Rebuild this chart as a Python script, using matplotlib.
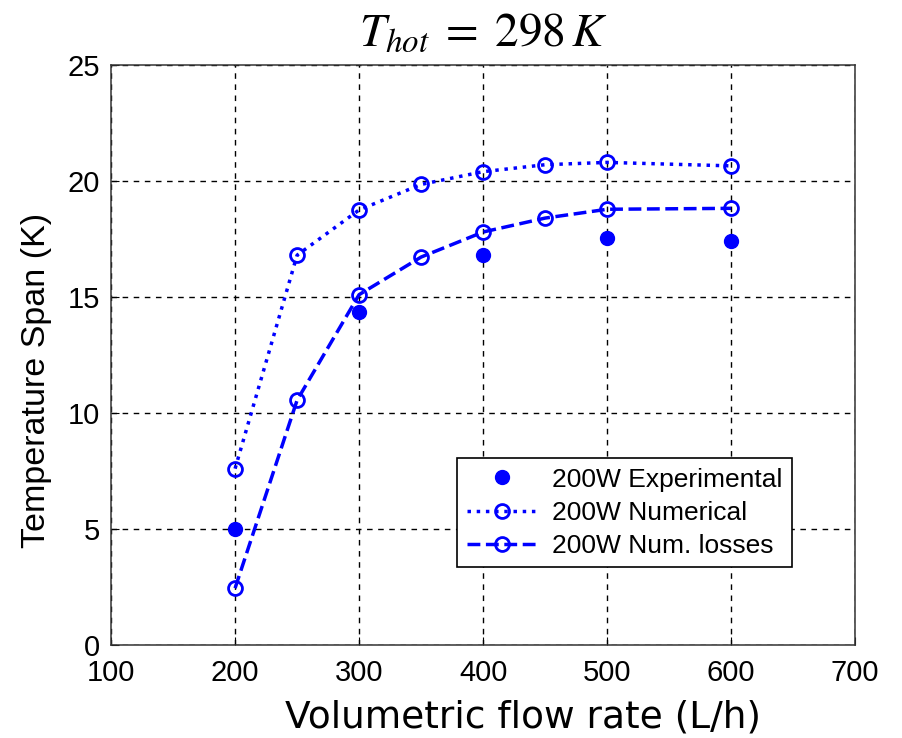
import matplotlib
matplotlib.use("Agg")
import matplotlib.pyplot as plt

# Data
flow_exp = [200, 300, 400, 500, 600]
span_exp = [5.0, 14.35, 16.8, 17.55, 17.4]

flow_num = [200, 250, 300, 350, 400, 450, 500, 600]
span_num = [7.6, 16.8, 18.75, 19.85, 20.4, 20.7, 20.8, 20.65]
span_loss = [2.45, 10.55, 15.1, 16.72, 17.8, 18.4, 18.78, 18.82]

plt.rcParams['font.family'] = ['Liberation Sans', 'DejaVu Sans']
plt.rcParams['mathtext.fontset'] = 'stix'

fig = plt.figure(figsize=(9.03, 7.38), dpi=100)
ax = fig.add_axes([0.123, 0.126, 0.824, 0.786])

ax.plot(flow_exp, span_exp, 'o', color='blue', markersize=10, linestyle='none',
        label='200W Experimental')
ax.plot(flow_num, span_num, 'o:', color='blue', markersize=10, linewidth=2.5,
        markerfacecolor='none', markeredgewidth=2, label='200W Numerical')
ax.plot(flow_num, span_loss, 'o--', color='blue', markersize=10, linewidth=2.5,
        markerfacecolor='none', markeredgewidth=2, label='200W Num. losses')

ax.set_xlim(100, 700)
ax.set_ylim(0, 25)
ax.set_xticks(range(100, 701, 100))
ax.set_yticks(range(0, 26, 5))
ax.tick_params(direction='in', labelsize=21, length=6)
ax.tick_params(axis='x', pad=10)
ax.tick_params(axis='y', pad=8)
ax.grid(True, color='black', linestyle=(0, (4, 4)), linewidth=1)
for s in ax.spines.values():
    s.set_linewidth(1.1)
    s.set_color('#333333')

fig.text(0.579, 0.028, 'Volumetric flow rate (L/h)', fontsize=27,
         family='DejaVu Sans', ha='center', va='center')
fig.text(0.04, 0.485, 'Temperature Span (K)', fontsize=24.5,
         rotation=90, ha='center', va='center')
fig.text(0.535, 0.955, r'$T_{hot}\;=\;298\,K$', fontsize=34,
         ha='center', va='center')

leg = ax.legend(loc='lower right', bbox_to_anchor=(0.915, 0.134), borderaxespad=0,
                fontsize=19, fancybox=False, edgecolor='black', framealpha=1,
                handlelength=2.7, handletextpad=0.55, borderpad=0.35,
                labelspacing=0.35)
leg.get_frame().set_linewidth(1.2)

fig.savefig('out.png', dpi=100)
